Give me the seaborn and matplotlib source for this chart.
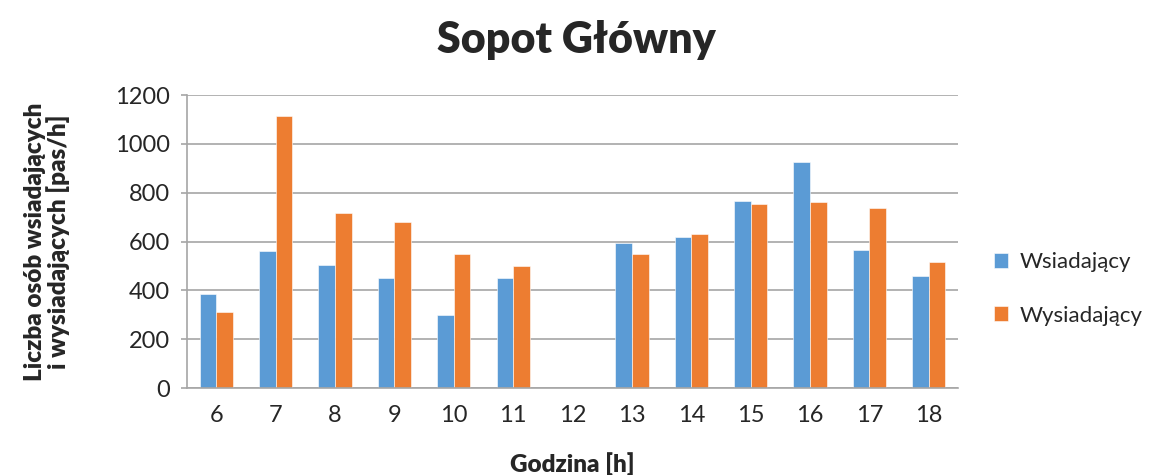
import matplotlib
matplotlib.use("Agg")
import matplotlib.pyplot as plt
import numpy as np
import pandas as pd
import seaborn as sns

# values (hour 12 has no data)
hours = ["6", "7", "8", "9", "10", "11", "12", "13", "14", "15", "16", "17", "18"]
boarding = [384, 562, 504, 451, 300, 451, np.nan, 596, 620, 766, 924, 567, 458]
alighting = [311, 1114, 718, 678, 547, 499, np.nan, 547, 630, 755, 761, 736, 515]
series_names = ["Wsiadający", "Wysiadający"]
colors = ["#5B9BD5", "#ED7D31"]

df = pd.DataFrame({
    "hour": hours * 2,
    "value": boarding + alighting,
    "series": [series_names[0]] * len(hours) + [series_names[1]] * len(hours),
})

sns.set_style("white")
plt.rcParams["font.family"] = ["Lato", "DejaVu Sans"]

fig = plt.figure(figsize=(11.59, 4.75), dpi=100)
ax = fig.add_axes([0.161, 0.183, 0.666, 0.617])

sns.barplot(
    data=df, x="hour", y="value", hue="series", order=hours,
    hue_order=series_names, palette=colors, width=0.56,
    edgecolor="white", linewidth=0.4, saturation=1, ax=ax,
)

ax.set_ylim(0, 1200)
ax.set_xlim(-0.5, len(hours) - 0.5)
ax.set_yticks(range(0, 1201, 200))
ax.yaxis.grid(True, color="#A6A6A6", linewidth=1.2)
ax.set_axisbelow(True)
for side in ["top", "right"]:
    ax.spines[side].set_visible(False)
for side in ["left", "bottom"]:
    ax.spines[side].set_color("#A6A6A6")
    ax.spines[side].set_linewidth(1.2)

# category separators on the x axis
ax.set_xticks(np.arange(-0.5, len(hours), 1.0), minor=True)
ax.tick_params(axis="x", which="major", length=0, pad=12, labelsize=17, colors="#262626")
ax.tick_params(axis="x", which="minor", length=8, width=1.2, color="#A6A6A6")
ax.tick_params(axis="y", length=4, width=1.2, color="#A6A6A6", labelsize=17,
               colors="#262626", pad=8, left=True)

ax.set_xlabel("Godzina [h]", fontsize=17.5, fontweight="heavy", labelpad=19)
ax.set_ylabel("Liczba osób wsiadających\ni wysiadających [pas/h]", fontsize=17.5,
              fontweight="heavy", labelpad=32, linespacing=1.05)

fig.suptitle("Sopot Główny", fontsize=31, fontweight="heavy", x=0.497, y=0.958)

ax.legend(title=None, frameon=False, loc="center left", bbox_to_anchor=(1.02, 0.338),
          fontsize=16, labelspacing=1.5, handlelength=0.65, handleheight=0.65,
          handletextpad=0.5)

fig.savefig("out.png", dpi=100)
